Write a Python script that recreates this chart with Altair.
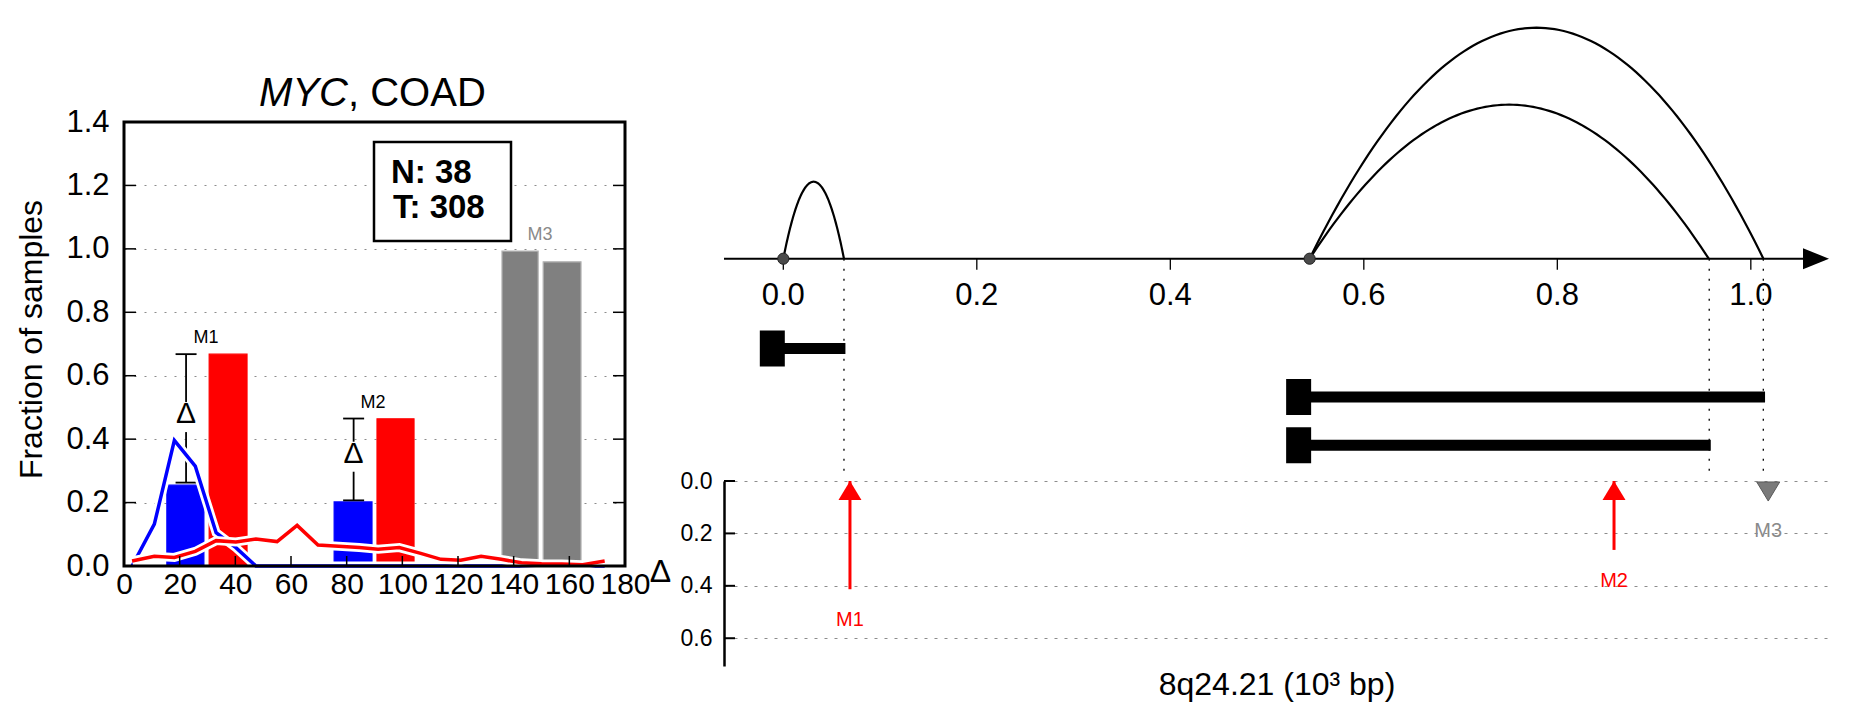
import altair as alt
import pandas as pd

FONT = "Liberation Sans"

# ---------------- data: left panel (fraction of samples) ----------------
bin_pos = [2.9, 10.9, 18.1, 25.6, 33.1, 40.2, 47.4, 55.0, 62.2, 69.7, 77.1, 84.5,
           91.3, 98.9, 106.6, 113.9, 121.0, 128.3, 135.5, 142.8, 150.0, 157.3, 164.8, 172.7]
normal_frac = [0.0, 0.132, 0.396, 0.315, 0.105, 0.058, 0.0, 0.0, 0.0, 0.0, 0.0, 0.0,
               0.0, 0.0, 0.0, 0.0, 0.0, 0.0, 0.0, 0.0, 0.0, 0.0, 0.0, 0.0]
tumor_frac = [0.016, 0.031, 0.027, 0.046, 0.080, 0.076, 0.085, 0.077, 0.128, 0.066, 0.062, 0.058,
              0.053, 0.058, 0.040, 0.021, 0.018, 0.031, 0.021, 0.010, 0.007, 0.006, 0.004, 0.016]

bar_motif = ["M1", "M1", "M2", "M2", "M3", "M3"]
bar_kind = ["Normal", "Tumor", "Normal", "Tumor", "Not significant", "Not significant"]
bar_start = [15.4, 30.6, 75.5, 90.9, 135.8, 150.6]
bar_end = [28.7, 44.2, 89.1, 104.2, 148.8, 164.2]
bar_frac = [0.255, 0.668, 0.202, 0.464, 0.993, 0.959]

err_pos = [22.3, 82.5]
err_low = [0.263, 0.207]
err_high = [0.668, 0.465]
delta_mid = [0.479, 0.354]

motif_names = ["M1", "M2", "M3"]
motif_center = [29.5, 89.5, 149.5]
motif_top = [0.668, 0.464, 0.993]
motif_significant = ["yes", "yes", "no"]

n_normal = 38
n_tumor = 308

left_x_ticks = [0, 20, 40, 60, 80, 100, 120, 140, 160, 180]
left_y_ticks = [0.0, 0.2, 0.4, 0.6, 0.8, 1.0, 1.2, 1.4]

# ---------------- data: right panel (locus) ----------------
gen_ticks = [0.0, 0.2, 0.4, 0.6, 0.8, 1.0]
loop_start = [0.0, 0.544, 0.544]
loop_end = [0.0627, 0.9565, 1.013]
loop_height = [1, 2, 3]
anchor_pos = [0.0, 0.544]
tx_start = [0.0, 0.544, 0.544]
tx_end = [0.0642, 1.0147, 0.9586]
tx_row = [1, 2, 3]
guide_pos = [0.0627, 0.957, 1.0129]

mut_names = ["M1", "M2", "M3"]
mut_pos = [0.0689, 0.8586, 1.018]
mut_delta = [0.413, 0.263, 0.0]
mut_dir = ["up", "up", "down"]
delta_ticks = [0.0, 0.2, 0.4, 0.6]

one = pd.DataFrame({"o": [0]})

# =============== LEFT PANEL ===============
W_L, H_L = 501, 444
xL = alt.Scale(domain=[0, 180], nice=False, zero=False)
yL = alt.Scale(domain=[0, 1.4], nice=False, zero=False)

x_axis_L = alt.Axis(values=left_x_ticks, format="d", labelFontSize=30, labelPadding=3,
                    labelFlush=False, labelOverlap=False, tickSize=0, domain=False,
                    grid=False, title=None, labelColor="black")
y_axis_L = alt.Axis(values=left_y_ticks, format=".1f", labelFontSize=31, labelPadding=15,
                    labelFlush=False, labelOverlap=False, tickSize=0, domain=False,
                    grid=True, gridDash=[2, 8], gridColor="#8c8c8c", gridWidth=1,
                    title="Fraction of samples", titleFontSize=32, titleFontWeight="normal",
                    titleAngle=270, titleX=-93, titleY=217, titleAlign="center",
                    titleBaseline="middle", labelColor="black", titleColor="black")


def LX(field):
    return alt.X(field, scale=xL, axis=x_axis_L)


def LY(field):
    return alt.Y(field, scale=yL, axis=y_axis_L)


kind_domain = ["Normal", "Tumor", "Not significant"]
bars_df = pd.DataFrame({"motif": bar_motif, "kind": bar_kind, "start": bar_start,
                        "end": bar_end, "frac": bar_frac})
bars = alt.Chart(bars_df).mark_rect(strokeWidth=1.2).encode(
    x=LX("start:Q"),
    x2="end",
    y=LY("frac:Q"),
    y2=alt.datum(0),
    color=alt.Color("kind:N", scale=alt.Scale(domain=kind_domain,
                    range=["#0000ff", "#ff0000", "#808080"]), legend=None),
    stroke=alt.Stroke("kind:N", scale=alt.Scale(domain=kind_domain,
                      range=["#0000ff", "#ff0000", "#b3b3b3"]), legend=None),
)

err_df = pd.DataFrame({"pos": err_pos, "lo": err_low, "hi": err_high, "mid": delta_mid})
err_rule = alt.Chart(err_df).mark_rule(color="black", strokeWidth=1.8).encode(
    x=LX("pos:Q"), y=LY("lo:Q"), y2="hi")
err_cap_lo = alt.Chart(err_df).mark_tick(orient="horizontal", size=21, thickness=1.8,
                                         color="black", opacity=1).encode(
    x=LX("pos:Q"), y=LY("lo:Q"))
err_cap_hi = alt.Chart(err_df).mark_tick(orient="horizontal", size=21, thickness=1.8,
                                         color="black", opacity=1).encode(
    x=LX("pos:Q"), y=LY("hi:Q"))
err_gap = alt.Chart(err_df).mark_tick(orient="vertical", size=30, thickness=8,
                                      color="white", opacity=1, yOffset=3).encode(
    x=LX("pos:Q"), y=LY("mid:Q"))
err_delta = alt.Chart(err_df).mark_text(text="Δ", fontSize=30, baseline="middle",
                                        color="black").encode(
    x=LX("pos:Q"), y=LY("mid:Q"))

lines_df = pd.DataFrame({"pos": bin_pos + bin_pos,
                         "frac": normal_frac + tumor_frac,
                         "kind": ["Normal"] * len(bin_pos) + ["Tumor"] * len(bin_pos)})


def line_layer(kind, color, width):
    return alt.Chart(lines_df).transform_filter(alt.datum.kind == kind).mark_line(
        color=color, strokeWidth=width).encode(x=LX("pos:Q"), y=LY("frac:Q"))


blue_halo = line_layer("Normal", "white", 9)
blue_line = line_layer("Normal", "#0000ff", 3.5)
red_halo = line_layer("Tumor", "white", 9)
red_line = line_layer("Tumor", "#ff0000", 3.5)

ytick_df = pd.DataFrame({"v": left_y_ticks[1:-1]})
xtick_df = pd.DataFrame({"v": left_x_ticks[1:-1]})
ticks_left = alt.Chart(ytick_df).mark_rule(color="black", strokeWidth=1.5).encode(
    y=LY("v:Q"), x=alt.value(0), x2=alt.value(12))
ticks_right = alt.Chart(ytick_df).mark_rule(color="black", strokeWidth=1.5).encode(
    y=LY("v:Q"), x=alt.value(W_L - 12), x2=alt.value(W_L))
ticks_bottom = alt.Chart(xtick_df).mark_rule(color="black", strokeWidth=1.5).encode(
    x=LX("v:Q"), y=alt.value(H_L - 10), y2=alt.value(H_L))

motif_df = pd.DataFrame({"name": motif_names, "pos": motif_center, "top": motif_top,
                         "sig": motif_significant})
motif_labels_sig = alt.Chart(motif_df).transform_filter(alt.datum.sig == "yes").mark_text(
    fontSize=18, baseline="alphabetic", dy=-11, color="black").encode(
    x=LX("pos:Q"), y=LY("top:Q"), text="name:N")
motif_labels_ns = alt.Chart(motif_df).transform_filter(alt.datum.sig == "no").mark_text(
    fontSize=18, baseline="alphabetic", dy=-11, color="#8a8a8a").encode(
    x=LX("pos:Q"), y=LY("top:Q"), text="name:N")

count_box = alt.Chart(one).mark_rect(fill="white", stroke="black", strokeWidth=2.5).encode(
    x=alt.value(250), x2=alt.value(387), y=alt.value(20), y2=alt.value(119))
count_n = alt.Chart(one).mark_text(text=f"N: {n_normal}", fontSize=33, fontWeight="bold",
                                   align="left", baseline="alphabetic", color="black").encode(
    x=alt.value(267), y=alt.value(61))
count_t = alt.Chart(one).mark_text(text=f"T: {n_tumor}", fontSize=33, fontWeight="bold",
                                   align="left", baseline="alphabetic", color="black").encode(
    x=alt.value(269), y=alt.value(96))

title_gene = alt.Chart(one).mark_text(text="MYC", fontSize=40, fontStyle="italic",
                                      align="right", baseline="alphabetic", color="black").encode(
    x=alt.value(224), y=alt.value(-16))
title_rest = alt.Chart(one).mark_text(text=", COAD", fontSize=40, align="left",
                                      baseline="alphabetic", color="black").encode(
    x=alt.value(224), y=alt.value(-16))

frame = alt.Chart(one).mark_rect(fillOpacity=0, stroke="black", strokeWidth=3).encode(
    x=alt.value(0), x2=alt.value(W_L), y=alt.value(0), y2=alt.value(H_L))
extent_top = alt.Chart(one).mark_rule(strokeOpacity=0).encode(
    x=alt.value(0), y=alt.value(-60), y2=alt.value(-59))

left_chart = alt.layer(
    bars, err_rule, err_cap_lo, err_cap_hi, err_gap, err_delta,
    blue_halo, blue_line, red_halo, red_line,
    ticks_left, ticks_right, ticks_bottom, motif_labels_sig, motif_labels_ns,
    count_box, count_n, count_t, title_gene, title_rest, frame, extent_top
).properties(width=W_L, height=H_L)

spacer = alt.Chart(one).mark_rule(strokeOpacity=0).encode(
    x=alt.value(0), y=alt.value(0), y2=alt.value(1)).properties(width=W_L, height=38)

left_col = alt.vconcat(spacer, left_chart, spacing=8)

# =============== RIGHT PANEL ===============
W_R = 1105
H_R1 = 457
H_R3 = 185
xR = alt.Scale(domain=[-0.0613, 1.0808], nice=False, zero=False)
yArc = alt.Scale(domain=[-2.757, 3.178], nice=False, zero=False)
yTx = alt.Scale(domain=[-5.911, 3.531], reverse=True, nice=False, zero=False)
yD = alt.Scale(domain=[0, 0.706], reverse=True, nice=False, zero=False)

y0 = alt.YDatum(0, scale=yArc, axis=None, type="quantitative")

axis_line = alt.Chart(one).mark_rule(color="black", strokeWidth=2).encode(
    x=alt.value(0), x2=alt.value(W_R - 20), y=y0)
arrow_head = alt.Chart(one).mark_point(shape="M-1,-0.81L1,0L-1,0.81Z", size=676,
                                       filled=True, color="black", opacity=1).encode(
    x=alt.value(W_R - 13), y=y0)

gen_df = pd.DataFrame({"v": gen_ticks})
gen_tick_marks = alt.Chart(gen_df).mark_tick(orient="vertical", size=11, thickness=1.3,
                                             color="black", opacity=1, yOffset=5.5).encode(
    x=alt.X("v:Q", scale=xR, axis=None), y=y0)
gen_tick_labels = alt.Chart(gen_df).mark_text(fontSize=31, baseline="middle", dy=37,
                                              color="black").encode(
    x=alt.X("v:Q", scale=xR, axis=None), y=y0,
    text=alt.Text("v:Q", format=".1f"))

loops_df = pd.DataFrame({"id": ["L1", "L2", "L3"], "start": loop_start,
                         "end": loop_end, "height": loop_height})
loops = alt.Chart(loops_df).transform_calculate(
    t="sequence(0, 1.001, 0.01)"
).transform_flatten(["t"]).transform_calculate(
    px="datum.start + datum.t * (datum.end - datum.start)",
    py="4 * datum.height * datum.t * (1 - datum.t)"
).mark_line(color="black", strokeWidth=2.2).encode(
    x=alt.X("px:Q", scale=xR, axis=None),
    y=alt.Y("py:Q", scale=yArc, axis=None),
    detail="id:N")

guides = alt.Chart(pd.DataFrame({"v": guide_pos})).mark_rule(
    color="black", strokeWidth=1.3, strokeDash=[2, 8]).encode(
    x=alt.X("v:Q", scale=xR, axis=None), y=y0, y2=alt.value(H_R1))

anchors = alt.Chart(pd.DataFrame({"v": anchor_pos})).mark_point(
    filled=True, size=125, fill="#4a4a4a", stroke="#222222", strokeWidth=1, opacity=1).encode(
    x=alt.X("v:Q", scale=xR, axis=None), y=y0)

tx_df = pd.DataFrame({"start": tx_start, "end": tx_end, "row": tx_row})
tx_lines = alt.Chart(tx_df).mark_rule(color="black", strokeWidth=11).encode(
    x=alt.X("start:Q", scale=xR, axis=None), x2="end",
    y=alt.Y("row:Q", scale=yTx, axis=None))
tx_blocks = alt.Chart(tx_df).mark_tick(orient="vertical", size=36, thickness=25,
                                       color="black", opacity=1, xOffset=-11).encode(
    x=alt.X("start:Q", scale=xR, axis=None),
    y=alt.Y("row:Q", scale=yTx, axis=None))

arc_group = alt.layer(guides, axis_line, arrow_head, gen_tick_marks, gen_tick_labels,
                      loops, anchors)
tx_group = alt.layer(tx_lines, tx_blocks)
R1 = alt.layer(arc_group, tx_group).resolve_scale(y="independent").properties(
    width=W_R, height=H_R1)

# delta panel
d_axis = alt.Axis(values=delta_ticks, format=".1f", labelFontSize=23, labelPadding=12,
                  tickSize=0, domain=True, domainColor="black", domainWidth=2.5,
                  grid=True, gridDash=[3, 7], gridColor="#8c8c8c", gridWidth=1,
                  title="Δ", titleFontSize=32, titleFontWeight="normal", titleAngle=0,
                  titleAlign="center", titleBaseline="middle", titleX=-64, titleY=90,
                  labelFlush=False, labelColor="black", titleColor="black")
x_axis_R3 = alt.Axis(title="8q24.21 (10³ bp)", labels=False, ticks=False, domain=False,
                     grid=False, titleFontSize=32, titleFontWeight="normal",
                     titlePadding=3, titleColor="black")


def DX(field):
    return alt.X(field, scale=xR, axis=x_axis_R3)


def DY(field):
    return alt.Y(field, scale=yD, axis=d_axis)


mut_df = pd.DataFrame({"name": mut_names, "pos": mut_pos, "delta": mut_delta, "dir": mut_dir})
up = alt.Chart(mut_df).transform_filter(alt.datum.dir == "up")
down = alt.Chart(mut_df).transform_filter(alt.datum.dir == "down")
yd0 = alt.YDatum(0, scale=yD, axis=d_axis, type="quantitative")

shafts = up.mark_rule(color="#ff0000", strokeWidth=3).encode(
    x=DX("pos:Q"), y=DY("delta:Q"), y2=alt.datum(0))
heads_up = up.mark_point(shape="M0,-0.83L1,0.83L-1,0.83Z", size=529, filled=True,
                         color="#ff0000", opacity=1, yOffset=9.5).encode(
    x=DX("pos:Q"), y=yd0)
heads_down = down.mark_point(shape="M-1,-0.83L1,-0.83L0,0.83Z", size=529, filled=True,
                             fill="#7a7a7a", stroke="#5a5a5a", strokeWidth=1, opacity=1,
                             yOffset=10.5).encode(
    x=DX("pos:Q"), y=yd0)
labels_up = up.mark_text(fontSize=20, color="#ff0000", baseline="middle", dy=31).encode(
    x=DX("pos:Q"), y=DY("delta:Q"), text="name:N")
labels_down = down.mark_text(fontSize=20, color="#8a8a8a", baseline="middle", dy=50).encode(
    x=DX("pos:Q"), y=yd0, text="name:N")
d_ticks = alt.Chart(pd.DataFrame({"v": delta_ticks})).mark_rule(
    color="black", strokeWidth=2).encode(
    y=DY("v:Q"), x=alt.value(0), x2=alt.value(11))

R3 = alt.layer(shafts, heads_up, heads_down, labels_up, labels_down, d_ticks).properties(
    width=W_R, height=H_R3)

right_col = alt.vconcat(R1, R3, spacing=-4)

chart = alt.hconcat(left_col, right_col, spacing=-3).properties(
    padding={"left": 6, "top": 5, "right": 5, "bottom": 5}
).configure(font=FONT).configure_view(stroke="transparent").configure_axis(
    labelColor="black", titleColor="black", labelFont=FONT, titleFont=FONT)

chart.save("out.html", embed_options={"renderer": "svg", "actions": False})
